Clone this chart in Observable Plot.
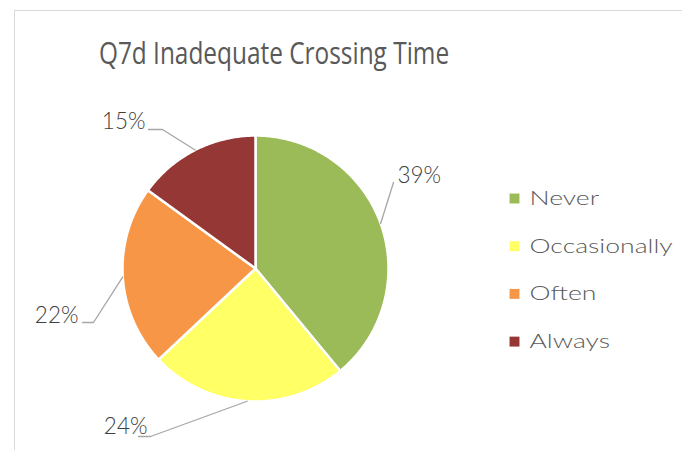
<!DOCTYPE html>
<html><head><meta charset="utf-8">
<script src="https://cdn.jsdelivr.net/npm/d3@7"></script>
<script src="https://cdn.jsdelivr.net/npm/@observablehq/plot@0.6"></script>
<style>
body{margin:0;background:#fff;}
#wrap{position:relative;width:682px;height:450px;overflow:hidden;background:#fff;}
#frame{position:absolute;left:14px;top:10px;width:720px;height:480px;border-left:1.5px solid #d9d9d9;border-top:1.5px solid #d9d9d9;}
#title{position:absolute;left:273.5px;top:32px;transform:translateX(-50%) scaleX(0.787);white-space:nowrap;font-family:"Open Sans";font-size:31px;color:#595959;line-height:40px;}
#chart{position:absolute;left:0;top:0;}
</style></head><body>
<div id="wrap"><div id="frame"></div><div id="title">Q7d Inadequate Crossing Time</div><div id="chart"></div></div>
<script>
// ---- data ----
const categories = ["Never", "Occasionally", "Often", "Always"];
const values = [39, 24, 22, 15];
const percentLabels = ["39%", "24%", "22%", "15%"];
const colors = ["#9BBB59", "#FFFF66", "#F79646", "#953735"];

// ---- layout (not data) ----
const W = 682, H = 450;
const CX = 255, CY = 268, R = 133;
// label text anchor point (x, baseline y), anchor, elbow point for leader
const labelLayout = [
  {x: 397, y: 182, anchor: "start", end: [393, 182], elbow: null},
  {x: 147, y: 433, anchor: "end", end: [138, 436], elbow: [150, 436]},
  {x: 78, y: 322, anchor: "end", end: [82, 322], elbow: [93, 322]},
  {x: 145, y: 128, anchor: "end", end: [148, 129], elbow: [162, 129]}
];
const legendX = 514, legendY0 = 198, legendStep = 47.7;

const pie = d3.pie().sort(null).value(d => d.value);
const table = categories.map((c, i) => ({cat: c, value: values[i], label: percentLabels[i]}));
const arcs = pie(table);

const pt = (a, r) => [CX + r * Math.sin(a), CY - r * Math.cos(a)];

const slicePts = [];
arcs.forEach(a => {
  slicePts.push({cat: a.data.cat, x: CX, y: CY});
  const n = Math.max(2, Math.ceil((a.endAngle - a.startAngle) / (Math.PI / 360)));
  for (let k = 0; k <= n; k++) {
    const t = a.startAngle + (a.endAngle - a.startAngle) * k / n;
    const [x, y] = pt(t, R);
    slicePts.push({cat: a.data.cat, x, y});
  }
  slicePts.push({cat: a.data.cat, x: CX, y: CY});
});

const leaderPts = [];
const labelRows = [];
arcs.forEach((a, i) => {
  const mid = (a.startAngle + a.endAngle) / 2;
  const L = labelLayout[i];
  const [sx, sy] = pt(mid, R);
  leaderPts.push({id: i, x: sx, y: sy});
  if (L.elbow) leaderPts.push({id: i, x: L.elbow[0], y: L.elbow[1]});
  leaderPts.push({id: i, x: L.end[0], y: L.end[1]});
  labelRows.push({label: a.data.label, x: L.x, y: L.y, anchor: L.anchor});
});

const legendRows = categories.map((c, i) => ({cat: c, x: legendX, y: legendY0 + i * legendStep}));

const labelFont = 22.5;
const legendFont = 20;

const chart = Plot.plot({
  width: W, height: H,
  margin: 0,
  style: {background: "transparent", overflow: "visible"},
  x: {domain: [0, W], range: [0, W], axis: null},
  y: {domain: [0, H], range: [0, H], axis: null},
  color: {domain: categories, range: colors},
  marks: [
    Plot.line(slicePts, {x: "x", y: "y", z: "cat", fill: "cat", stroke: "white", strokeWidth: 2.5, curve: "linear"}),
    Plot.line(leaderPts, {x: "x", y: "y", z: "id", stroke: "#A6A6A6", strokeWidth: 1.3, strokeLinejoin: "miter"}),
    Plot.text(labelRows.filter(d => d.anchor === "start"), {x: "x", y: d => d.y - 0.32 * labelFont, text: "label", textAnchor: "start", fontSize: labelFont, fontFamily: "Lato", fontWeight: 300, fill: "#404040"}),
    Plot.text(labelRows.filter(d => d.anchor === "end"), {x: "x", y: d => d.y - 0.32 * labelFont, text: "label", textAnchor: "end", fontSize: labelFont, fontFamily: "Lato", fontWeight: 300, fill: "#404040"}),
    Plot.dot(legendRows, {x: "x", y: "y", fill: "cat", symbol: "square", r: 5.6, stroke: null}),
    Plot.text(legendRows, {x: d => d.x + 15, y: "y", text: "cat", textAnchor: "start", fontSize: legendFont, fontFamily: "Lato", fontWeight: 300, fill: "#595959"})
  ]
});
document.getElementById("chart").appendChild(chart);
// stretch legend lettering to match the wide geometric face of the original
chart.querySelectorAll("text").forEach(t => {
  if (categories.includes(t.textContent)) {
    const len = t.getComputedTextLength();
    t.setAttribute("textLength", (len * 1.33).toFixed(1));
    t.setAttribute("lengthAdjust", "spacingAndGlyphs");
  }
});
</script>
</body></html>
